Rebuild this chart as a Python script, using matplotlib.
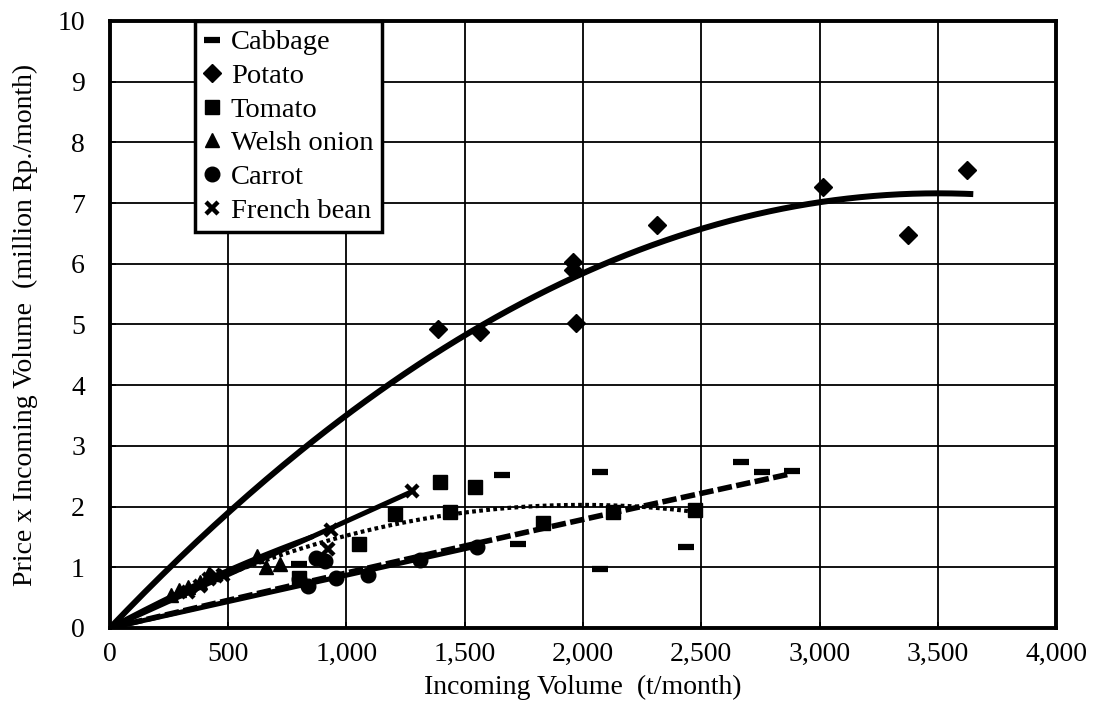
import numpy as np
import matplotlib
matplotlib.use("Agg")
from matplotlib import pyplot
from matplotlib.ticker import FuncFormatter

pyplot.rcParams['font.family'] = ['Liberation Serif', 'DejaVu Serif']

# scatter data (t/month, million Rp./month)
cabbage_x = [800, 1658, 1726, 2071, 2071, 2436, 2666, 2755, 2883]
cabbage_y = [1.05, 2.52, 1.39, 2.57, 0.97, 1.34, 2.73, 2.57, 2.59]

potato_x = [1387, 1564, 1958, 1958, 1970, 2313, 3015, 3374, 3624]
potato_y = [4.93, 4.88, 6.03, 5.90, 5.02, 6.64, 7.27, 6.47, 7.55]

tomato_x = [800, 1055, 1204, 1395, 1437, 1542, 1831, 2127, 2473]
tomato_y = [0.82, 1.39, 1.88, 2.40, 1.91, 2.33, 1.73, 1.91, 1.94]

onion_x = [260, 290, 330, 380, 420, 620, 660, 720]
onion_y = [0.55, 0.62, 0.68, 0.75, 0.90, 1.18, 1.00, 1.05]

carrot_x = [800, 836, 870, 910, 957, 1090, 1310, 1552]
carrot_y = [0.80, 0.70, 1.15, 1.10, 0.83, 0.88, 1.12, 1.34]

bean_x = [330, 380, 420, 450, 480, 920, 935, 1276]
bean_y = [0.60, 0.70, 0.80, 0.85, 0.88, 1.30, 1.62, 2.25]

# trend lines through the origin: y = a*x + b*x^2, drawn up to x_end
cabbage_trend = [0.00092, -1.3e-8, 2870]
potato_trend = [0.00409, -5.84e-7, 3650]
tomato_trend = [0.00203, -5.08e-7, 2490]
onion_trend = [0.0021, -4.0e-7, 850]
carrot_trend = [0.00087, 0.0, 1560]
bean_trend = [0.00176, 0.0, 1280]

x_ticks = [0, 500, 1000, 1500, 2000, 2500, 3000, 3500, 4000]
y_ticks = list(range(0, 11))


def trend(coef):
    a, b, x_end = coef
    xs = np.linspace(0, x_end, 200)
    return xs, a * xs + b * xs ** 2


fig = pyplot.figure()
dpi = 100.
fig.set_size_inches(1093. / dpi, 724. / dpi)
ax = fig.add_axes([0.1006, 0.1326, 0.8656, 0.8384])

ax.grid(True, color='black', lw=1.3)
ax.set_axisbelow(True)

# trend lines
xs, ys = trend(potato_trend)
ax.plot(xs, ys, color='black', lw=4.3, solid_capstyle='butt')
xs, ys = trend(cabbage_trend)
ax.plot(xs, ys, color='black', lw=4.0, ls=(0, (2.6, 0.8)))
xs, ys = trend(tomato_trend)
ax.plot(xs, ys, color='black', lw=3.0, ls=(0, (0.9, 0.8)))
xs, ys = trend(onion_trend)
ax.plot(xs, ys, color='black', lw=3.6)
xs, ys = trend(carrot_trend)
ax.plot(xs, ys, color='black', lw=3.6)
xs, ys = trend(bean_trend)
ax.plot(xs, ys, color='black', lw=3.6)

# points
ax.plot(cabbage_x, cabbage_y, ls='none', marker='_', ms=12, mew=4.5,
        color='black', label='Cabbage')
ax.plot(potato_x, potato_y, ls='none', marker='D', ms=9.5,
        color='black', label='Potato')
ax.plot(tomato_x, tomato_y, ls='none', marker='s', ms=10.5,
        color='black', label='Tomato')
ax.plot(onion_x, onion_y, ls='none', marker='^', ms=10.5,
        color='black', label='Welsh onion')
ax.plot(carrot_x, carrot_y, ls='none', marker='o', ms=10.5,
        color='black', label='Carrot')
ax.plot(bean_x, bean_y, ls='none', marker='x', ms=9, mew=3.2,
        color='black', label='French bean')

ax.set_xlim(0, 4000)
ax.set_ylim(0, 10)
ax.set_xticks(x_ticks)
ax.set_yticks(y_ticks)
ax.xaxis.set_major_formatter(FuncFormatter(lambda v, p: '{:,}'.format(int(v))))
ax.tick_params(axis='both', direction='in', length=4, width=1.3,
               labelsize=20, colors='black')
ax.tick_params(axis='x', pad=10)
ax.tick_params(axis='y', pad=18)

for spine in ax.spines.values():
    spine.set_linewidth(2.8)
    spine.set_color('black')

ax.set_xlabel('Incoming Volume  (t/month)', fontsize=20, labelpad=6)
ax.set_ylabel('Price x Incoming Volume  (million Rp./month)', fontsize=20,
              labelpad=14)

legend = ax.legend(loc='upper left', bbox_to_anchor=(0.09, 1.0),
                   fontsize=20.5, frameon=True, fancybox=False,
                   handlelength=0.6, handletextpad=0.35, labelspacing=0.27,
                   borderpad=0.3, borderaxespad=0.)
legend.get_frame().set_edgecolor('black')
legend.get_frame().set_linewidth(2.5)
legend.get_frame().set_alpha(1.0)

print("saving out.png")
pyplot.savefig('out.png', dpi=dpi)
pyplot.close()
